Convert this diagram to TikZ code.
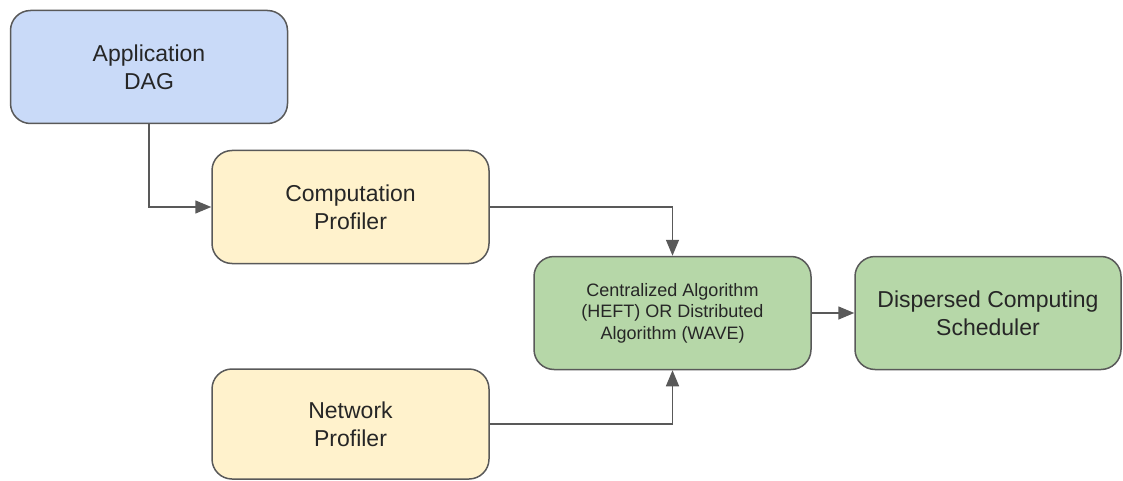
\documentclass[tikz,border=0pt]{standalone}
\usepackage{fontspec}
\setmainfont{Liberation Sans}
\usetikzlibrary{arrows.meta}
\definecolor{bluefill}{HTML}{C9DAF8}
\definecolor{yellowfill}{HTML}{FFF2CC}
\definecolor{greenfill}{HTML}{B6D7A8}
\definecolor{edgegray}{HTML}{595959}
\definecolor{txt}{HTML}{262626}
\tikzset{
  box/.style={draw=edgegray, line width=1.5pt, rounded corners=20pt, inner sep=0pt,
    minimum width=277pt, minimum height=113pt, align=center, text=txt,
    font=\fontsize{23}{28}\selectfont},
  smalltext/.style={font=\fontsize{18}{21.5}\selectfont},
  conn/.style={draw=edgegray, line width=1.5pt, -{Triangle[length=16pt,width=13pt]}}
}
\begin{document}
\begin{tikzpicture}[x=1pt,y=-1pt]
\useasboundingbox (0,0) rectangle (1123,481);
\node[box, fill=bluefill] (app) at (149,67) {Application\\DAG};
\node[box, fill=yellowfill] (comp) at (350.5,207) {Computation\\Profiler};
\node[box, fill=greenfill, smalltext] (alg) at (672.5,313) {Centralized Algorithm\\(HEFT) OR Distributed\\Algorithm (WAVE)};
\node[box, fill=greenfill, minimum width=266pt] (sched) at (988,313) {Dispersed Computing\\Scheduler};
\node[box, fill=yellowfill, minimum height=110pt] (net) at (350.5,424) {Network\\Profiler};
\draw[conn] (app.south) |- (comp.west);
\draw[conn] (comp.east) -| (alg.north);
\draw[conn] (net.east) -| (alg.south);
\draw[conn] (alg.east) -- (sched.west);
\end{tikzpicture}
\end{document}
